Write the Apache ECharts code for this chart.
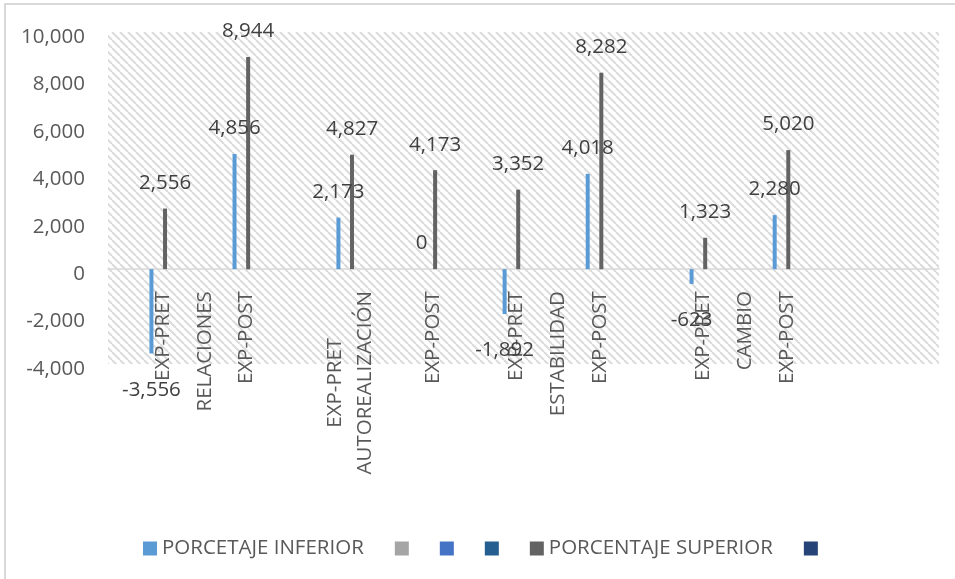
<!DOCTYPE html>
<html>
<head>
<meta charset="utf-8">
<script src="https://cdn.jsdelivr.net/npm/echarts@6/dist/echarts.min.js"></script>
<style>
  html, body { margin: 0; padding: 0; background: #ffffff; }
  #chart { width: 955px; height: 579px; }
</style>
</head>
<body>
<div id="chart"></div>
<script>
// Category slots along the axis (blank slots are empty rows of the source table)
const categories = [
  '', '', 'EXP-PRET', '', 'RELACIONES', '', 'EXP-POST', '', '', '',
  '', 'EXP-PRET\nAUTOREALIZACIÓN', '', '', '', 'EXP-POST', '', '', '', 'EXP-PRET',
  '', 'ESTABILIDAD', '', 'EXP-POST', '', '', '', '', 'EXP-PRET', '',
  'CAMBIO', '', 'EXP-POST', '', '', '', '', '', '', ''
];
const porcentajeInferior = [
  null, null, -3556, null, null, null, 4856, null, null, null,
  null, 2173, null, null, null, 0, null, null, null, -1892,
  null, null, null, 4018, null, null, null, null, -623, null,
  null, null, 2280, null, null, null, null, null, null, null
];
const porcentajeSuperior = [
  null, null, 2556, null, null, null, 8944, null, null, null,
  null, 4827, null, null, null, 4173, null, null, null, 3352,
  null, null, null, 8282, null, null, null, null, 1323, null,
  null, null, 5020, null, null, null, null, null, null, null
];
const seriesNames = ['PORCETAJE INFERIOR', 'serie2', 'serie3', 'serie4', 'PORCENTAJE SUPERIOR', 'serie6'];
const seriesColors = ['#5B9BD5', '#A5A5A5', '#4472C4', '#255E91', '#636363', '#264478'];
const seriesValues = [porcentajeInferior, [], [], [], porcentajeSuperior, []];
const yTicks = { min: -4000, max: 10000, interval: 2000 };

const FONT = 'Open Sans';
const fmt = v => Number(v).toLocaleString('en-US');

const GRID = { left: 108, right: 16, top: 32, bottom: 215 };
const plotHeight = 579 - GRID.top - GRID.bottom;
// place the category axis at the zero line
const zeroOffset = -plotHeight * (0 - yTicks.min) / (yTicks.max - yTicks.min);

// hatch pattern for plot area
const tile = document.createElement('canvas');
tile.width = 8; tile.height = 8;
const tctx = tile.getContext('2d');
tctx.fillStyle = '#ffffff';
tctx.fillRect(0, 0, 8, 8);
tctx.strokeStyle = '#DBDBDB';
tctx.lineWidth = 2;
for (const k of [-8, 0, 8]) {
  tctx.beginPath();
  tctx.moveTo(k, 0);
  tctx.lineTo(k + 8, 8);
  tctx.stroke();
}

const chart = echarts.init(document.getElementById('chart'));

const series = seriesNames.map((name, i) => ({
  name: name,
  type: 'bar',
  barWidth: 4,
  barGap: '-15%',
  itemStyle: { color: seriesColors[i] },
  data: seriesValues[i].map(v => v === null ? null : {
    value: v,
    label: { position: v < 0 ? 'bottom' : 'top', distance: v < 0 ? 26 : 15 }
  }),
  label: {
    show: true,
    color: '#404040',
    fontFamily: FONT,
    fontSize: 20.5,
    formatter: p => fmt(p.value)
  }
}));

chart.setOption({
  animation: false,
  backgroundColor: '#ffffff',
  textStyle: { fontFamily: FONT },
  grid: {
    left: GRID.left, right: GRID.right, top: GRID.top, bottom: GRID.bottom,
    show: true,
    borderWidth: 0,
    backgroundColor: { image: tile, repeat: 'repeat' }
  },
  legend: {
    left: 143, top: 538,
    padding: 0,
    itemWidth: 14, itemHeight: 14, itemGap: 31,
    icon: 'rect',
    data: seriesNames,
    formatter: n => n.startsWith('serie') ? '' : n,
    textStyle: { color: '#595959', fontFamily: FONT, fontSize: 20.5 }
  },
  xAxis: {
    type: 'category',
    data: categories,
    boundaryGap: true,
    offset: zeroOffset,
    axisLine: { onZero: false, lineStyle: { color: '#D9D9D9', width: 1.5 } },
    axisTick: { show: false },
    splitLine: { show: false },
    axisLabel: {
      interval: 0,
      rotate: 90,
      margin: 22,
      padding: [7, 0, 0, 0],
      color: '#595959',
      fontFamily: FONT,
      fontSize: 20.5,
      formatter: v => v.indexOf('\n') >= 0 ? v.split('\n').map(s => '{c|' + s + '}').join('\n') : v,
      rich: {
        c: { align: 'center', lineHeight: 30, fontSize: 20.5, color: '#595959', fontFamily: FONT }
      }
    }
  },
  yAxis: {
    type: 'value',
    min: yTicks.min, max: yTicks.max, interval: yTicks.interval,
    axisLine: { show: false },
    axisTick: { show: false },
    splitLine: { show: false },
    axisLabel: {
      margin: 23,
      verticalAlign: 'top',
      lineHeight: 10,
      color: '#595959',
      fontFamily: FONT,
      fontSize: 20.5,
      formatter: v => fmt(v)
    }
  },
  graphic: [{
    type: 'rect',
    shape: { x: 5, y: 4, width: 1200, height: 1000 },
    style: { fill: 'none', stroke: '#D9D9D9', lineWidth: 2 },
    silent: true
  }],
  series: series
});
</script>
</body>
</html>
